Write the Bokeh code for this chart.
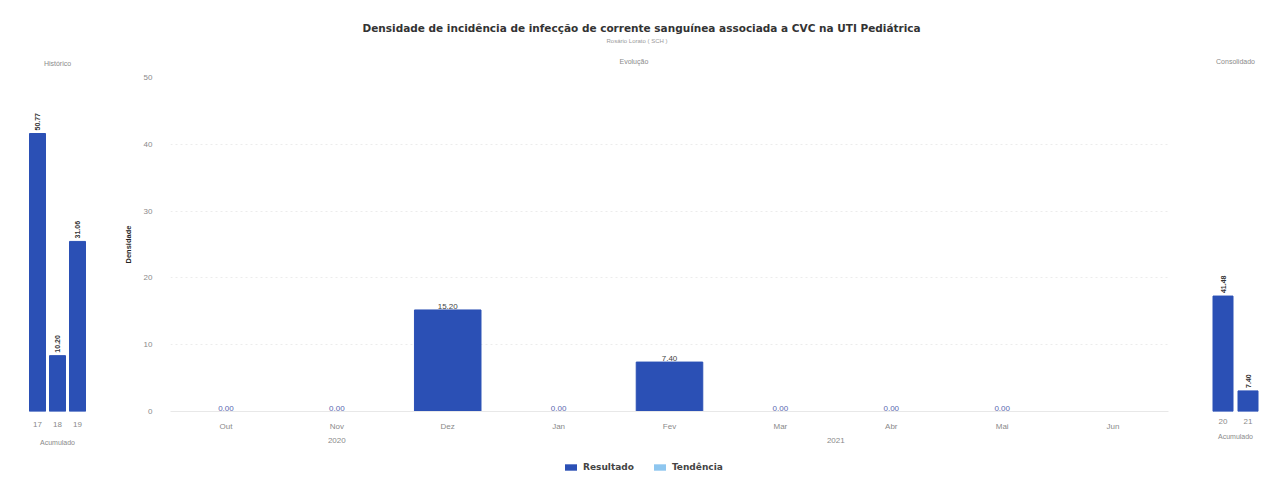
import math
from bokeh.plotting import figure
from bokeh.layouts import row, column
from bokeh.models import (ColumnDataSource, FactorRange, Range1d, Title, FixedTicker,
                          Legend, LegendItem)
from bokeh.core.properties import value
from bokeh.embed import file_html
from bokeh.resources import INLINE

# ---------------- data ----------------
hist_years = ["17", "18", "19"]
hist_values = [50.77, 10.20, 31.06]

cons_years = ["20", "21"]
cons_values = [41.48, 7.40]

years = ["2020", "2020", "2020", "2021", "2021", "2021", "2021", "2021", "2021"]
months = ["Out", "Nov", "Dez", "Jan", "Fev", "Mar", "Abr", "Mai", "Jun"]
results = [0.00, 0.00, 15.20, 0.00, 7.40, 0.00, 0.00, 0.00, None]

series_names = ["Resultado", "Tendência"]
y_ticks = [0, 10, 20, 30, 40, 50]

# ---------------- style ----------------
FONT = "Liberation Sans"
TFONT = "DejaVu Sans"
BAR = "#2b50b5"
TREND = "#8ec6ef"
GREY = "#8a8a8a"
DARK = "#333333"
H = 454
TOP = 77


def fmt(v):
    return f"{v:.2f}"


# ---------------- main chart ----------------
factors = list(zip(years, months))
xr = FactorRange(*factors, group_padding=0, factor_padding=0, range_padding=0)
p = figure(x_range=xr, y_range=Range1d(0, 50), width=1080, height=H,
           output_backend="svg", toolbar_location=None, title=None,
           min_border_left=60, min_border_right=22, min_border_top=TOP,
           min_border_bottom=H - 418, outline_line_color=None)

bx, btop = [], []
for f, v in zip(factors, results):
    if v is not None:
        bx.append(f)
        btop.append(v)
src = ColumnDataSource(dict(x=bx, top=btop,
                            label=[fmt(v) for v in btop],
                            color=["#5a68b0" if v == 0 else "#444444" for v in btop]))
p.vbar(x="x", top="top", width=0.6, source=src, color=BAR)
p.text(x="x", y="top", text="label", source=src, text_align="center",
       text_baseline="bottom", y_offset=-1, text_font_size="8px",
       text_color="color", text_font=value(FONT))

p.yaxis.ticker = FixedTicker(ticks=y_ticks)
p.yaxis.axis_label = "Densidade"
p.yaxis.axis_label_text_font_style = "bold"
p.yaxis.axis_label_text_font_size = "7.5px"
p.yaxis.axis_label_text_color = "#222222"
p.yaxis.axis_label_standoff = 8
p.yaxis.axis_line_color = None
p.yaxis.major_tick_line_color = None
p.yaxis.minor_tick_line_color = None
p.yaxis.major_label_standoff = 12
p.yaxis.major_label_text_font_size = "8px"
p.yaxis.major_label_text_color = GREY

p.xaxis.axis_line_color = "#e8e8e8"
p.xaxis.major_tick_line_color = None
p.xaxis.minor_tick_line_color = None
p.xaxis.separator_line_color = None
p.xaxis.major_label_text_font_size = "8px"
p.xaxis.major_label_text_color = GREY
p.xaxis.group_text_font_size = "8px"
p.xaxis.group_text_color = GREY
p.xaxis.group_text_font_style = "normal"
p.xaxis.major_label_standoff = 4

p.xgrid.grid_line_color = None
p.ygrid.ticker = FixedTicker(ticks=y_ticks)
p.ygrid.grid_line_color = "#ececec"
p.ygrid.grid_line_dash = "2 3"

p.add_layout(Title(text="Evolução", align="left", text_font_size="7px",
                   text_color=GREY, text_font_style="normal", offset=449,
                   vertical_align="top", standoff=21), "above")
p.add_layout(Title(text="Rosário Lorato ( SCH )", align="left", text_font_size="6px",
                   text_color="#9a9a9a", text_font_style="normal", offset=436,
                   vertical_align="top", standoff=4), "above")
p.add_layout(Title(text="Densidade de incidência de infecção de corrente sanguínea associada a CVC na UTI Pediátrica",
                   align="left", text_font_size="10.5px", text_color=DARK,
                   text_font=TFONT, text_font_style="bold", offset=192,
                   vertical_align="top", standoff=0), "above")


# ---------------- side panels ----------------
def side_panel(cats, vals, ymax, title, width, bl, br, bb, lab_so, axl_so, t_so):
    f = figure(x_range=FactorRange(*cats, range_padding=0, factor_padding=0),
               y_range=Range1d(0, ymax), width=width, height=H,
               output_backend="svg", toolbar_location=None, title=None,
               y_axis_location=None, min_border_left=bl, min_border_right=br,
               min_border_top=TOP, min_border_bottom=bb, outline_line_color=None)
    s = ColumnDataSource(dict(x=cats, top=vals, label=[fmt(v) for v in vals]))
    f.vbar(x="x", top="top", width=0.8, source=s, color=BAR)
    f.text(x="x", y="top", text="label", source=s, angle=math.pi / 2,
           text_align="left", text_baseline="middle", y_offset=-3,
           text_font_size="7px", text_font_style="bold", text_color=DARK,
           text_font=value(FONT))
    f.grid.grid_line_color = None
    f.xaxis.axis_label = "Acumulado"
    f.xaxis.axis_label_text_font_size = "7px"
    f.xaxis.axis_label_text_font_style = "normal"
    f.xaxis.axis_label_text_color = GREY
    f.xaxis.axis_label_standoff = axl_so
    f.xaxis.axis_line_color = None
    f.xaxis.major_tick_line_color = None
    f.xaxis.minor_tick_line_color = None
    f.xaxis.major_label_text_font_size = "8px"
    f.xaxis.major_label_text_color = GREY
    f.xaxis.major_label_standoff = lab_so
    f.add_layout(Title(text=title, align="center", text_font_size="7px",
                       text_color=GREY, text_font_style="normal",
                       vertical_align="top", standoff=t_so), "above")
    return f


left = side_panel(hist_years, hist_values, 61, "Histórico", 110, 27, 23, H - 418, 4, 9, 18)
right = side_panel(cons_years, cons_values, 120, "Consolidado", 87, 20, 17, H - 411, 1, 6, 21)

# ---------------- legend strip ----------------
lg = figure(width=1277, height=24, output_backend="svg", toolbar_location=None,
            title=None, x_axis_location=None, y_axis_location=None,
            x_range=Range1d(0, 1), y_range=Range1d(0, 1),
            min_border=0, outline_line_color=None)
lg.grid.grid_line_color = None
r_res = lg.vbar(x=[0], top=[0], width=0.1, fill_color=BAR, line_alpha=0)
r_tr = lg.vbar(x=[0], top=[0], width=0.1, fill_color=TREND, line_alpha=0)
legend = Legend(items=[LegendItem(label=series_names[0], renderers=[r_res]),
                       LegendItem(label=series_names[1], renderers=[r_tr])],
                orientation="horizontal", location=(563, 6),
                label_text_font=TFONT, label_text_font_style="bold",
                label_text_font_size="9px", label_text_color="#444444",
                glyph_width=15, glyph_height=8, label_standoff=5,
                spacing=18, padding=2, margin=0, border_line_color=None,
                background_fill_alpha=0)
lg.add_layout(legend)

layout = column(row(left, p, right), lg)
open("out.html", "w").write(file_html(layout, INLINE))
